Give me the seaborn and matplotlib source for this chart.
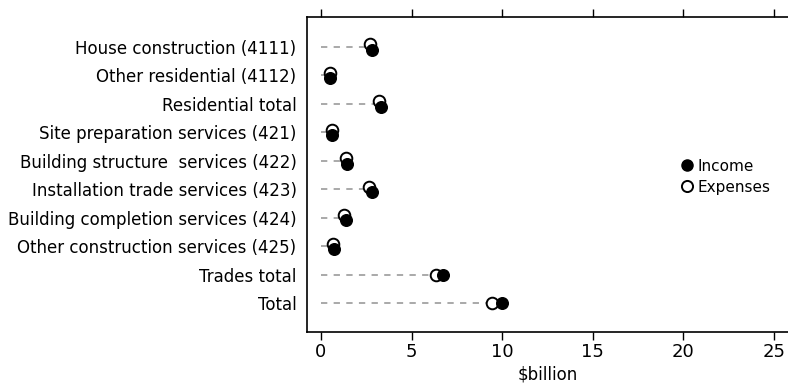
import matplotlib
matplotlib.use("Agg")
import matplotlib.pyplot as plt
from matplotlib.lines import Line2D
import seaborn as sns
import pandas as pd
import numpy as np

categories = [
    "House construction (4111)",
    "Other residential (4112)",
    "Residential total",
    "Site preparation services (421)",
    "Building structure  services (422)",
    "Installation trade services (423)",
    "Building completion services (424)",
    "Other construction services (425)",
    "Trades total",
    "Total",
]
income = [2.83, 0.52, 3.29, 0.63, 1.42, 2.80, 1.36, 0.70, 6.75, 10.0]
expenses = [2.70, 0.50, 3.18, 0.61, 1.36, 2.65, 1.29, 0.66, 6.35, 9.45]
xticks = [0, 5, 10, 15, 20, 25]

sns.set_theme(style="white")
plt.rcParams["font.family"] = ["DejaVu Sans"]
plt.rcParams["text.color"] = "black"
plt.rcParams["xtick.color"] = "black"
plt.rcParams["ytick.color"] = "black"
plt.rcParams["axes.labelcolor"] = "black"

df = pd.DataFrame({"category": categories, "Income": income, "Expenses": expenses})
df["pos"] = np.arange(len(df))
# vertical dodge where the two markers would sit almost on top of each other
close = (df["Income"] - df["Expenses"]).abs() < 0.3
df["y_exp"] = df["pos"] - np.where(close, 0.09, 0.0)
df["y_inc"] = df["pos"] + np.where(close, 0.10, 0.0)

fig = plt.figure(figsize=(7.88, 3.85), dpi=100)
ax = fig.add_axes([307 / 788, 1 - 332 / 385, 1 - 307 / 788, (332 - 17) / 385])

ax.hlines(df["pos"], 0, df["Expenses"], colors="#a3a3a3", linestyles=(0, (3.5, 3.5)), linewidth=1.3, zorder=1)

sns.scatterplot(data=df, x="Expenses", y="y_exp", ax=ax, s=70, color="white",
                edgecolor="black", linewidth=1.4, zorder=3, legend=False)
sns.scatterplot(data=df, x="Income", y="y_inc", ax=ax, s=70, color="black",
                edgecolor="black", linewidth=1.0, zorder=4, legend=False)

ax.set_xlim(-0.77, 25.77)
ax.set_ylim(9 + 1.02, -1.05)
ax.set_yticks(df["pos"])
ax.set_yticklabels(categories)
ax.set_xticks(xticks)
ax.set_xticklabels([str(t) for t in xticks], fontsize=13)
ax.tick_params(axis="x", which="both", top=True, bottom=True, direction="out",
               length=6, width=1, color="black", pad=2)
ax.tick_params(axis="y", length=0, pad=7.5, labelsize=12)
ax.set_xlabel("$billion", fontsize=12, labelpad=3)
ax.set_ylabel("")
for side in ["left", "bottom", "top"]:
    ax.spines[side].set_color("black")
    ax.spines[side].set_linewidth(1.2)
ax.spines["right"].set_visible(False)

handles = [
    Line2D([], [], marker="o", linestyle="", markerfacecolor="black", markeredgecolor="black", markersize=8),
    Line2D([], [], marker="o", linestyle="", markerfacecolor="white", markeredgecolor="black",
           markeredgewidth=1.4, markersize=8),
]
fig.legend(handles, ["Income", "Expenses"], loc="upper left", bbox_to_anchor=(670 / 788, 1 - 151 / 385),
           frameon=False, fontsize=11, handletextpad=0.1, labelspacing=0.4, borderpad=0,
           handlelength=1.2)

fig.savefig("out.png", dpi=100)
